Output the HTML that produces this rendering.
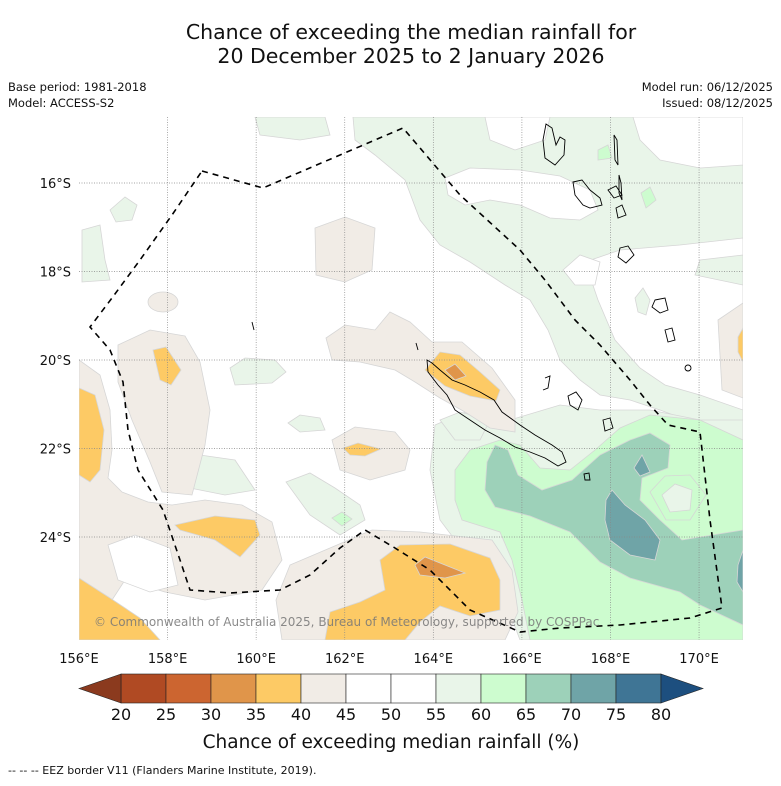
<!DOCTYPE html>
<html><head><meta charset="utf-8">
<style>
body{margin:0;background:#fff;font-family:"Liberation Sans","DejaVu Sans",sans-serif;}
svg text{font-family:"DejaVu Sans","Liberation Sans",sans-serif;}
</style></head>
<body>
<svg id="chart" width="781" height="781" viewBox="0 0 781 781" xmlns="http://www.w3.org/2000/svg">
<rect width="781" height="781" fill="#fff"/>
<text x="411" y="39" font-size="20.5" text-anchor="middle" fill="#111">Chance of exceeding the median rainfall for</text>
<text x="411" y="63" font-size="20.5" text-anchor="middle" fill="#111">20 December 2025 to 2 January 2026</text>
<text x="8" y="91" font-size="11.5" fill="#111">Base period: 1981-2018</text>
<text x="8" y="107" font-size="11.5" fill="#111">Model: ACCESS-S2</text>
<text x="773" y="91" font-size="11.5" text-anchor="end" fill="#111">Model run: 06/12/2025</text>
<text x="773" y="107" font-size="11.5" text-anchor="end" fill="#111">Issued: 08/12/2025</text>

<defs><clipPath id="mapclip"><rect x="79" y="117" width="664" height="523"/></clipPath></defs>
<g clip-path="url(#mapclip)" stroke="#d6d6d6" stroke-width="0.8">
 <path fill="#e9f5e9" d="M255,117 L325,117 L330,135 L300,140 L260,135 Z"/>
 <path fill="#e9f5e9" d="M353,117 L743,117 L743,470 L700,425 L660,410 L630,400 L600,395 L580,380 L560,360 L548,330 L530,300 L505,285 L470,262 L440,245 L420,220 L405,180 L375,155 L355,140 Z"/>
 <path fill="#fff" d="M485,117 L550,117 L545,140 L515,150 L490,140 Z"/>
 <path fill="#fff" d="M445,178 L470,168 L520,170 L560,176 L590,190 L598,210 L580,220 L550,218 L520,205 L490,200 L465,205 L448,195 Z"/>
 <path fill="#fff" d="M633,117 L743,117 L743,165 L700,168 L660,160 L640,140 Z"/>
 <path fill="#fff" d="M585,262 L620,250 L680,245 L743,238 L743,255 L700,260 L695,275 L743,285 L743,410 L700,395 L665,385 L640,368 L615,340 L598,300 Z"/>
 <path fill="#fff" d="M563,270 L580,255 L600,262 L595,285 L575,285 Z"/>
 <path fill="#e9f5e9" d="M435,425 L470,410 L510,420 L560,405 L600,410 L650,410 L700,420 L743,420 L743,640 L520,640 L505,600 L470,560 L440,520 L430,470 Z"/>
 <path fill="#cdfccf" d="M455,470 L470,450 L500,440 L520,445 L540,468 L570,470 L595,450 L620,428 L650,415 L700,420 L743,440 L743,640 L530,640 L522,600 L512,560 L500,532 L462,520 L455,500 Z"/>
 <path fill="#9dd1b9" d="M487,462 L495,445 L508,450 L518,475 L542,490 L572,480 L600,455 L630,440 L650,433 L670,445 L668,468 L642,478 L640,500 L660,520 L682,540 L743,530 L743,625 L700,605 L680,592 L630,578 L600,562 L570,532 L530,516 L495,507 L485,490 Z"/>
 <path fill="#cdfccf" d="M650,492 L665,476 L690,475 L706,495 L690,520 L666,520 Z"/>
 <path fill="#e9f5e9" d="M662,495 L675,484 L692,490 L690,510 L670,512 Z"/>
 <path fill="#6fa4a7" d="M606,500 L612,490 L625,505 L645,520 L660,540 L655,560 L630,555 L610,540 L605,520 Z"/>
 <path fill="#6fa4a7" d="M634,468 L642,455 L650,472 L640,476 Z"/>
 <path fill="#6fa4a7" d="M738,565 L743,550 L743,592 L737,582 Z"/>
 <path fill="#e9f5e9" d="M110,210 L125,197 L137,205 L132,220 L116,222 Z"/>
 <path fill="#e9f5e9" d="M82,230 L100,225 L105,260 L110,280 L82,282 Z"/>
 <path fill="#e9f5e9" d="M230,368 L245,358 L275,360 L286,372 L272,383 L235,385 Z"/>
 <path fill="#e9f5e9" d="M157,462 L200,455 L235,460 L255,490 L225,495 L175,485 Z"/>
 <path fill="#e9f5e9" d="M286,482 L310,473 L335,488 L360,505 L365,520 L340,535 L310,515 Z"/>
 <path fill="#cdfccf" d="M332,518 L342,512 L352,519 L342,526 Z"/>
 <path fill="#cdfccf" d="M598,150 L608,145 L612,158 L598,160 Z"/>
 <path fill="#cdfccf" d="M641,193 L650,187 L656,200 L646,208 Z"/>
 <path fill="#e9f5e9" d="M635,298 L643,288 L650,300 L646,315 L638,312 Z"/>
 <path fill="#e9f5e9" d="M288,423 L300,415 L320,418 L325,430 L300,432 Z"/>
 <path fill="#e9f5e9" d="M440,420 L460,412 L490,420 L480,440 L455,440 Z"/>
 <path fill="#f1ece6" d="M79,360 L100,375 L110,410 L112,450 L108,478 L122,492 L148,502 L172,505 L205,500 L242,505 L272,522 L282,560 L262,590 L205,600 L165,592 L125,580 L112,600 L132,640 L79,640 Z"/>
 <path fill="#fff" d="M108,545 L135,535 L170,548 L178,585 L150,592 L118,580 Z"/>
 <path fill="#f1ece6" d="M118,345 L150,330 L185,336 L200,362 L210,410 L205,445 L192,495 L162,492 L150,462 L132,420 L118,382 Z"/>
 <path fill="#f1ece6" d="M315,228 L345,217 L375,228 L372,270 L345,282 L316,275 Z"/>
 <path fill="#f1ece6" d="M326,338 L345,325 L375,330 L390,312 L410,322 L432,342 L462,342 L492,368 L515,400 L515,432 L490,428 L465,412 L440,398 L415,382 L395,370 L360,362 L332,360 Z"/>
 <path fill="#f1ece6" d="M332,440 L355,427 L395,432 L410,450 L405,470 L370,480 L340,470 Z"/>
 <path fill="#f1ece6" d="M290,565 L330,548 L372,530 L420,532 L492,540 L512,570 L518,612 L505,640 L282,640 L276,600 Z"/>
 <path fill="#f1ece6" d="M718,320 L743,303 L743,398 L722,390 Z"/>
 <ellipse cx="163" cy="302" rx="15" ry="10" fill="#f1ece6"/>
 <path fill="#fdca65" d="M79,388 L95,395 L104,430 L100,470 L90,482 L79,475 Z"/>
 <path fill="#fdca65" d="M153,350 L166,347 L181,370 L171,385 L160,380 Z"/>
 <path fill="#fdca65" d="M425,370 L440,352 L460,355 L480,372 L500,390 L496,401 L470,396 L445,386 Z"/>
 <path fill="#fdca65" d="M343,448 L358,443 L381,449 L365,456 L350,455 Z"/>
 <path fill="#fdca65" d="M175,525 L215,516 L255,520 L260,535 L240,557 L215,540 L180,530 Z"/>
 <path fill="#fdca65" d="M380,560 L400,545 L450,544 L490,558 L500,580 L500,610 L470,616 L440,606 L420,622 L405,640 L325,640 L330,612 L360,602 L385,590 Z"/>
 <path fill="#fdca65" d="M79,578 L110,598 L140,618 L160,640 L79,640 Z"/>
 <path fill="#fdca65" d="M738,337 L743,328 L743,362 L738,352 Z"/>
 <path fill="#e0954a" d="M445,370 L455,364 L466,376 L455,380 Z"/>
 <path fill="#e0954a" d="M415,565 L425,557 L465,573 L445,578 L420,575 Z"/>
</g>

<g id="grid"></g>

<g fill="none" stroke="#000" stroke-width="0.9">
 <path d="M416,343 L418,350 M427,360 L432,363 L440,370 L452,380 L465,385 L480,392 L494,400 L502,412 L520,425 L535,435 L552,445 L562,452 L566,462 L558,466 L545,458 L530,452 L515,447 L500,438 L485,430 L470,420 L455,410 L447,395 L438,385 L428,372 Z"/>
 <path d="M546,124 L552,128 L556,145 L560,137 L565,140 L564,155 L555,165 L545,158 L543,140 Z"/>
 <path d="M573,182 L582,180 L590,190 L600,198 L602,205 L590,208 L583,205 L575,195 Z"/>
 <path d="M614,135 L617,140 L618,165 L615,160 Z"/>
 <path d="M619,175 L621,183 L622,200 L619,193 Z"/>
 <path d="M608,190 L616,186 L622,195 L614,198 Z"/>
 <path d="M616,208 L622,205 L626,215 L618,218 Z"/>
 <path d="M620,248 L628,246 L634,255 L626,263 L618,257 Z"/>
 <path d="M655,300 L665,298 L668,310 L660,313 L652,307 Z"/>
 <path d="M665,330 L672,328 L675,340 L668,342 Z"/>
 <circle cx="688" cy="368" r="3"/>
 <path d="M545,378 L550,376 L548,388 L543,390"/>
 <path d="M568,396 L576,392 L582,400 L578,410 L570,405 Z"/>
 <path d="M603,420 L610,418 L613,428 L605,431 Z"/>
 <path d="M584,474 L589,473 L590,480 L585,480 Z"/>
 <path d="M252,322 L254,330"/>
</g>

<polyline fill="none" stroke="#000" stroke-width="1.6" stroke-dasharray="6,5"
 points="202,171 263,188 403,128 460,195 520,250 545,280 575,320 600,345 630,380 650,405 668,425 700,432 710,520 722,608 690,618 620,625 560,628 520,632 470,610 430,570 395,548 365,530 340,548 310,575 280,590 230,593 190,590 180,560 163,510 138,470 128,430 123,382 110,350 90,327 112,298 140,260 172,215 202,171"/>

<text x="94" y="626" font-size="12" fill="#777" opacity="0.85">© Commonwealth of Australia 2025, Bureau of Meteorology, supported by COSPPac</text>

<g id="axes"></g>
<g id="colorbar"></g>
<text x="391" y="748" font-size="18.5" text-anchor="middle" fill="#111">Chance of exceeding median rainfall (%)</text>
<text x="8" y="774" font-size="11" fill="#111">--  --  -- EEZ border V11 (Flanders Marine Institute, 2019).</text>

<script>
const lonTicks = [156, 158, 160, 162, 164, 166, 168, 170];
const latTicks = [16, 18, 20, 22, 24];
const levels = [20, 25, 30, 35, 40, 45, 50, 55, 60, 65, 70, 75, 80];
const levelColors = ["#b04a23","#cc6530","#e0954a","#fdca65","#f1ece6","#ffffff","#ffffff","#e9f5e9","#cdfccf","#9dd1b9","#6fa4a7","#3f7595"];
const extendColors = ["#8b3a1e","#1d4f7f"];

const NS = "http://www.w3.org/2000/svg";
function xLon(lon){ return 79 + (lon - 156) * 44.29; }
function yLat(lat){ return 183 + (lat - 16) * 44.25; }
function mk(tag, attrs, parent){ const e=document.createElementNS(NS,tag); for(const k in attrs) e.setAttribute(k,attrs[k]); parent.appendChild(e); return e; }

const grid=document.getElementById('grid');
const axes=document.getElementById('axes');
lonTicks.forEach(lon=>{
  const x=xLon(lon);
  if(lon>156){
    const l=mk('line',{x1:x,y1:117,x2:x,y2:640,stroke:'#888','stroke-width':0.7,'stroke-dasharray':'1,1.5'},grid);
    
    
  }
  const t=mk('text',{x:x,y:663,'font-size':13,'text-anchor':'middle',fill:'#111'},axes);
  t.textContent=lon+'°E';
  
  
});
latTicks.forEach(lat=>{
  const y=yLat(lat);
  const l=mk('line',{x1:79,y1:y,x2:743,y2:y,stroke:'#888','stroke-width':0.7,'stroke-dasharray':'1,1.5'},grid);
  
  
  const t=mk('text',{x:71,y:y+5,'font-size':13,'text-anchor':'end',fill:'#111'},axes);
  t.textContent=lat+'°S';
  
  
});

const cb=document.getElementById('colorbar');
const cbX0=121, cbW=45, cbY=674, cbH=29;
function xLevel(i){ return cbX0 + i*cbW; }
levelColors.forEach((c,i)=>{
  const r=mk('rect',{x:xLevel(i),y:cbY,width:cbW,height:cbH,fill:c,stroke:'#222','stroke-width':0.6},cb);
  
  
});
const n=levelColors.length;
const tl=mk('polygon',{points:`79,${cbY+cbH/2} ${cbX0},${cbY} ${cbX0},${cbY+cbH}`,fill:extendColors[0],stroke:'#222','stroke-width':0.6},cb);


const tr=mk('polygon',{points:`${xLevel(n)},${cbY} ${xLevel(n)+42},${cbY+cbH/2} ${xLevel(n)},${cbY+cbH}`,fill:extendColors[1],stroke:'#222','stroke-width':0.6},cb);


levels.forEach((v,i)=>{
  const t=mk('text',{x:xLevel(i),y:720,'font-size':16,'text-anchor':'middle',fill:'#111'},cb);
  t.textContent=v;
  
  
});
</script>
</svg>
</body></html>
